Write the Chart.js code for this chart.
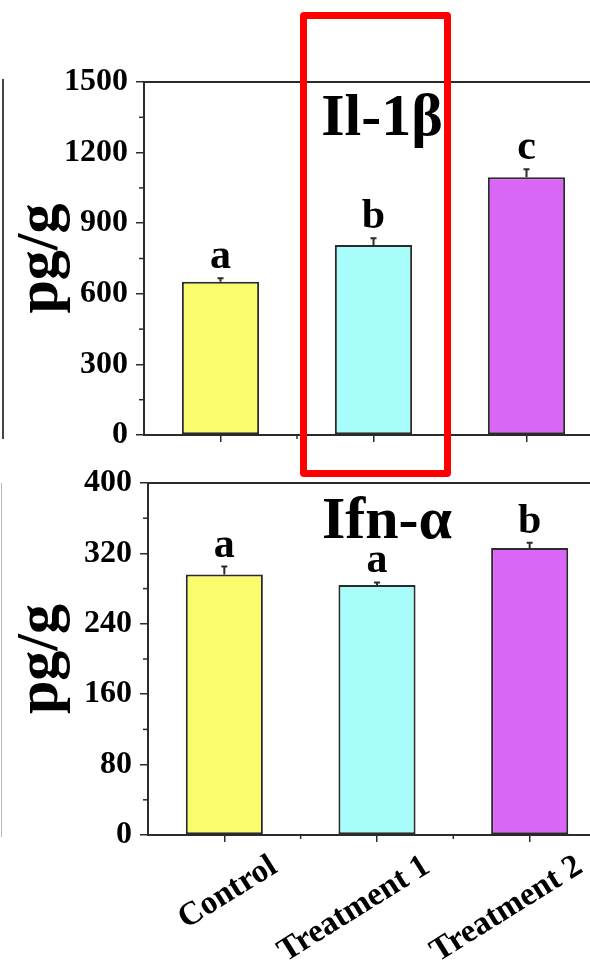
<!DOCTYPE html>
<html><head><meta charset="utf-8">
<script src="https://cdn.jsdelivr.net/npm/chart.js@4.4.1/dist/chart.umd.min.js"></script>
<style>
html,body{margin:0;padding:0;background:#fff;width:590px;height:962px;overflow:hidden;position:relative}
#c1{position:absolute;left:0;top:0}
#c2{position:absolute;left:0;top:440px}
#red{position:absolute;left:300px;top:12px;width:137px;height:451px;border:7px solid #ff0000;border-radius:4px;z-index:5}
#e1{position:absolute;left:2px;top:79px;width:2px;height:360px;background:#444}
#e2{position:absolute;left:1px;top:483px;width:1px;height:354px;background:#bbb}
</style></head><body>
<div id="e1"></div><div id="e2"></div>
<canvas id="c1" width="620" height="470"></canvas>
<canvas id="c2" width="620" height="522"></canvas>
<div id="red"></div>
<script>
const categories = ['Control', 'Treatment 1', 'Treatment 2'];
const barColors = ['#FAFC6E', '#A8FCFA', '#D966F5'];
const il1bValues = [651, 807, 1095];
const il1bErrors = [15, 29, 34];
const il1bLetters = ['a', 'b', 'c'];
const il1bTicks = [0, 300, 600, 900, 1200, 1500];
const ifnaValues = [296, 284, 326];
const ifnaErrors = [9, 3, 6];
const ifnaLetters = ['a', 'a', 'b'];
const ifnaTicks = [0, 80, 160, 240, 320, 400];

Chart.defaults.font.family = '"Liberation Serif", "Times New Roman", serif';
Chart.defaults.color = '#000';

const deco = {
  id: 'deco',
  afterDatasetsDraw(chart) {
    const cfg = chart.options.plugins.deco;
    const {ctx, chartArea: a, scales: {x, y}} = chart;
    ctx.save();
    ctx.strokeStyle = '#2b2b2b';
    ctx.lineWidth = 2;
    ctx.beginPath(); ctx.moveTo(a.left, a.top); ctx.lineTo(a.right + 5, a.top); ctx.stroke();
    // minor y ticks
    ctx.lineWidth = 1.5;
    const tv = cfg.ticks;
    for (let i = 0; i < tv.length - 1; i++) {
      const py = y.getPixelForValue((tv[i] + tv[i + 1]) / 2);
      ctx.beginPath(); ctx.moveTo(a.left - 5, py); ctx.lineTo(a.left, py); ctx.stroke();
    }
    // minor x ticks
    for (let i = 0; i < cfg.values.length; i++) {
      const px = x.getPixelForValue(i + 0.5);
      ctx.beginPath(); ctx.moveTo(px, a.bottom); ctx.lineTo(px, a.bottom + 4); ctx.stroke();
    }
    // error bars and letters
    ctx.fillStyle = '#000';
    ctx.font = 'bold 42px "Liberation Serif", serif';
    ctx.textAlign = 'center';
    ctx.textBaseline = 'alphabetic';
    cfg.values.forEach((v, i) => {
      const px = x.getPixelForValue(i);
      const y0 = y.getPixelForValue(v);
      const y1 = y.getPixelForValue(v + cfg.errors[i]);
      ctx.lineWidth = 2;
      ctx.beginPath(); ctx.moveTo(px, y0); ctx.lineTo(px, y1);
      ctx.moveTo(px - 3, y1); ctx.lineTo(px + 3, y1); ctx.stroke();
      ctx.fillText(cfg.letters[i], px, y1 - 10);
    });
    // panel title
    ctx.font = 'bold 60px "Liberation Serif", serif';
    ctx.fillText(cfg.title, cfg.titleX, cfg.titleY);
    ctx.restore();
  }
};

function makeChart(id, values, errors, letters, ticks, title, opt) {
  return new Chart(document.getElementById(id), {
    type: 'bar',
    data: {
      labels: categories,
      datasets: [{
        data: values,
        backgroundColor: barColors,
        borderColor: '#2b2b2b',
        borderWidth: 2,
        borderSkipped: false,
        categoryPercentage: 1,
        barPercentage: 0.505
      }]
    },
    options: {
      responsive: false,
      animation: false,
      devicePixelRatio: 1,
      layout: {padding: {top: opt.padTop, left: 0, right: opt.padRight, bottom: 0}},
      plugins: {
        legend: {display: false},
        tooltip: {enabled: false},
        deco: {values, errors, letters, ticks, title, titleX: opt.titleX, titleY: opt.titleY}
      },
      scales: {
        x: {
          offset: true,
          afterFit: s => { s.height = opt.xHeight; },
          border: {display: true, color: '#2b2b2b', width: 2},
          grid: {display: true, offset: false, drawOnChartArea: false, drawTicks: true, tickLength: 7, color: '#2b2b2b', lineWidth: 1.5},
          ticks: {
            display: opt.showX,
            autoSkip: false,
            minRotation: 32, maxRotation: 32,
            labelOffset: 50,
            padding: 5,
            color: '#000',
            font: {size: 33, weight: 'bold'}
          }
        },
        y: {
          min: ticks[0], max: ticks[ticks.length - 1],
          afterFit: s => { s.width = opt.yWidth; },
          afterBuildTicks: s => { s.ticks = ticks.map(v => ({value: v})); },
          border: {display: true, color: '#2b2b2b', width: 2},
          grid: {display: true, drawOnChartArea: false, drawTicks: true, tickLength: 8, color: '#2b2b2b', lineWidth: 1.5},
          ticks: {
            padding: 8,
            color: '#000',
            font: {size: 32, weight: 'bold'},
            callback: v => String(v)
          },
          title: {
            display: true,
            text: 'pg/g',
            color: '#000',
            font: {size: 60, weight: 'bold'},
            padding: {top: 5, bottom: 0}
          }
        }
      }
    },
    plugins: [deco]
  });
}

makeChart('c1', il1bValues, il1bErrors, il1bLetters, il1bTicks, 'Il-1β',
  {padTop: 82, padRight: 17, xHeight: 35, yWidth: 144, showX: false, titleX: 382, titleY: 135});
makeChart('c2', ifnaValues, ifnaErrors, ifnaLetters, ifnaTicks, 'Ifn-α',
  {padTop: 43, padRight: 14, xHeight: 127, yWidth: 148, showX: true, titleX: 387, titleY: 98});
</script>
</body></html>
